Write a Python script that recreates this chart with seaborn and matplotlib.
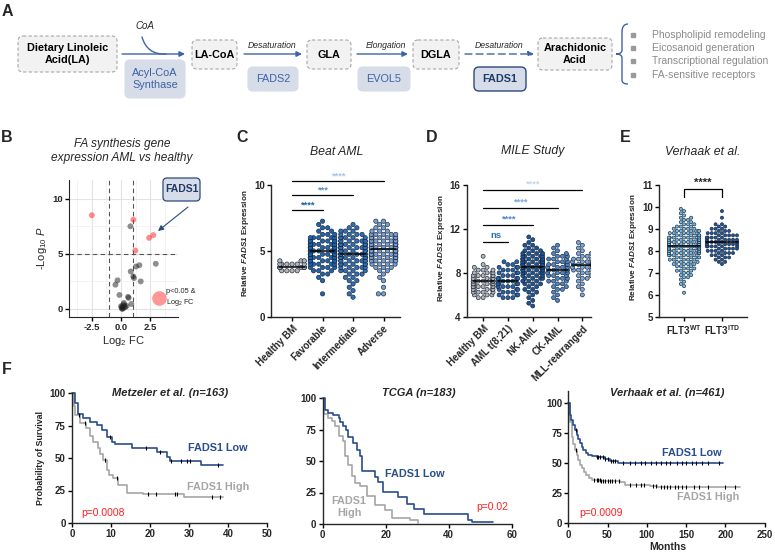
import numpy as np
import pandas as pd
import matplotlib
matplotlib.use('Agg')
import matplotlib.pyplot as plt
import seaborn as sns
from matplotlib.patches import FancyBboxPatch, PathPatch
from matplotlib.path import Path

# ---------------- data ----------------
# B volcano: log2 FC, -log10 P, significant flag
volc_fc = [-2.5, 1.05, 2.4, 2.76, 1.22,
           0.8, 2.97, 0.83, 1.28, 1.57, 1.05, 1.1, 1.68, -0.3, -0.48, -0.14, 0.6, 0.65,
           0.88, 0.48, 0.05, 0.1, 0.15, 0.2, 0.25, 0.3, 0.1, 0.35, 0.0, 0.18]
volc_p = [8.5, 8.1, 6.45, 6.7, 5.3,
          7.5, 4.1, 3.4, 3.85, 3.97, 2.95, 2.8, 2.5, 2.6, 2.2, 1.27, 1.1, 1.0,
          0.45, 0.27, 0.1, 0.2, 0.05, 0.4, 0.55, 0.3, 0.0, 0.15, 0.25, 0.12]
volc_sig = ['sig'] * 5 + ['ns'] * 25

# C Beat AML: value bins and counts per group
c_groups = ['Healthy BM', 'Favorable', 'Intermediate', 'Adverse']
c_bins = [1.5, 1.75, 2.0, 2.25, 2.5, 2.75, 3.0, 3.25, 3.5, 3.75, 4.0, 4.25,
          4.5, 4.75, 5.0, 5.25, 5.5, 5.75, 6.0, 6.25, 6.5, 6.75, 7.0, 7.25]
c_healthy = [0, 0, 0, 0, 0, 0, 0, 0, 4, 7, 6, 3, 0, 0, 0, 0, 0, 0, 0, 0, 0, 0, 0, 0]
c_fav = [0, 1, 0, 0, 0, 1, 1, 2, 3, 4, 5, 6, 7, 8, 8, 8, 7, 6, 5, 3, 2, 2, 1, 1]
c_inter = [1, 1, 1, 1, 1, 2, 2, 3, 4, 5, 6, 7, 8, 8, 8, 8, 8, 7, 5, 4, 3, 2, 1, 0]
c_adv = [0, 2, 0, 1, 0, 1, 1, 1, 2, 3, 4, 5, 7, 8, 9, 9, 8, 7, 6, 5, 3, 2, 2, 2]

# D MILE study
d_groups = ['Healthy BM', 'AML t(8;21)', 'NK-AML', 'CK-AML', 'MLL-rearranged']
d_bins = [5.0, 5.25, 5.5, 5.75, 6.0, 6.25, 6.5, 6.75, 7.0, 7.25, 7.5, 7.75, 8.0,
          8.25, 8.5, 8.75, 9.0, 9.25, 9.5, 9.75, 10.0, 10.25, 10.5, 10.75, 11.0, 11.25]
d_healthy = [0, 0, 0, 2, 3, 4, 5, 6, 7, 7, 6, 5, 4, 3, 2, 1, 0, 0, 1, 0, 0, 0, 0, 0, 0, 0]
d_t821 = [0, 0, 0, 3, 3, 3, 3, 4, 4, 4, 4, 3, 3, 3, 3, 2, 2, 0, 0, 0, 0, 0, 0, 0, 0, 0]
d_nk = [1, 1, 1, 1, 1, 2, 2, 2, 3, 3, 4, 4, 5, 6, 7, 7, 7, 6, 5, 4, 3, 2, 2, 1, 1, 1]
d_ck = [0, 0, 1, 1, 1, 1, 2, 2, 2, 3, 3, 3, 4, 4, 4, 4, 3, 3, 3, 2, 1, 1, 1, 0, 0, 0]
d_mll = [0, 0, 0, 0, 1, 0, 1, 1, 1, 1, 2, 2, 2, 3, 4, 4, 4, 3, 2, 2, 1, 1, 1, 1, 0, 0]

# E Verhaak FLT3
e_groups = ['FLT3 WT', 'FLT3 ITD']
e_bins = [6.1, 6.2, 6.3, 6.4, 6.5, 6.6, 6.7, 6.8, 6.9, 7.0, 7.1, 7.2, 7.3, 7.4, 7.5,
          7.6, 7.7, 7.8, 7.9, 8.0, 8.1, 8.2, 8.3, 8.4, 8.5, 8.6, 8.7, 8.8, 8.9, 9.0,
          9.1, 9.2, 9.3, 9.4, 9.5, 9.6, 9.7, 9.8, 9.9]
e_wt = [1, 0, 0, 1, 1, 1, 1, 2, 2, 2, 3, 3, 3, 4, 4, 5, 5, 6, 7, 7, 8, 8, 8, 8, 7,
        7, 6, 5, 5, 4, 3, 3, 2, 2, 2, 1, 1, 1, 1]
e_itd = [0, 0, 0, 0, 0, 0, 0, 0, 0, 0, 0, 0, 0, 1, 2, 2, 3, 3, 4, 4, 5, 6, 6, 6, 6,
         5, 5, 4, 3, 3, 2, 2, 0, 0, 1, 0, 0, 1, 0]

# F Kaplan-Meier curves (months, % surviving) and censor times
f1_low_t = [0, 0.8, 1.6, 2.9, 4.6, 6.3, 7.6, 8.9, 10.2, 11, 15.3, 21.7, 24.3, 25.1, 33, 38.8]
f1_low_s = [100, 92, 84, 81, 78, 75.6, 71.8, 66, 62.6, 60.5, 57.4, 54.8, 51, 48, 44.6, 44.6]
f1_high_t = [0, 0.5, 0.8, 2, 3.7, 4.6, 5.5, 6.7, 7.3, 8, 8.9, 9.5, 10.6, 11.9, 14, 18.3, 28.6, 38.8]
f1_high_s = [100, 90, 83, 76.9, 73, 66.7, 62, 57.4, 53, 48.5, 40.8, 37, 34.4, 29.2, 23.3, 22.3, 20.3, 20.3]
f1_low_c = [9.8, 19, 22.6, 25.5, 28, 29.5, 30.3, 37.5]
f1_high_c = [1.9, 3.4, 8.5, 11.5, 19.4, 21.5, 26.5, 27, 35.9, 37.9]

f2_low_t = [0, 0.7, 1.8, 3.3, 5.3, 5.6, 6.3, 7.4, 8.1, 9.7, 10.8, 11.8, 12.4, 16.6, 17.7,
            19.3, 24, 26.7, 29, 32, 46.2, 47.3, 54.2]
f2_low_s = [100, 90.5, 88, 86.5, 84, 81, 77.8, 74.6, 68.8, 64.6, 58.7, 54, 42.3, 37, 33.6,
            25.7, 21.7, 15.9, 12, 8, 3.2, 1.9, 1.9]
f2_high_t = [0, 0.4, 1.8, 2.8, 3.9, 5.3, 6.6, 7.1, 8.1, 9.2, 10.3, 11.8, 14, 16.6, 19.8, 21.9, 27.7, 30.4]
f2_high_s = [100, 87, 84, 81.5, 77.6, 69.6, 65.6, 53.7, 47, 37.8, 32.5, 29.9, 22.5, 15.3, 10.8, 4.8, 3.4, 0.5]

f3_low_t = [0, 2.1, 4, 6.4, 8.5, 10.6, 12.7, 14.9, 17, 19.1, 22, 25.4, 30, 36, 46.7, 53, 63.7, 197.5]
f3_low_s = [100, 90.3, 86, 81.9, 77.7, 73.6, 70, 66.7, 63.8, 61.1, 59, 57, 56, 55, 53.3, 52.2, 50, 50]
f3_high_t = [0, 2.1, 4.2, 6.3, 8.5, 10.6, 12.7, 14.8, 17, 19.7, 22.5, 26, 29.7, 40.3, 65.8, 72.2, 104, 112.5, 218.7]
f3_high_s = [100, 84.7, 72.2, 66, 61, 57, 52.8, 49, 45.8, 43, 40.3, 38, 36.1, 35.3, 34.2, 32, 31.1, 30, 30]
f3_low_c = [10, 36, 38, 41, 44, 47, 50, 54, 57, 60, 70, 78, 85, 92, 98, 105, 112, 118, 125,
            130, 138, 145, 150, 157, 163, 170, 178, 192]
f3_high_c = [10, 33, 36, 38, 40, 42, 44, 47, 50, 53, 56, 60, 65, 78, 86, 92, 97, 108, 112,
             118, 122, 126, 130, 136, 140, 145, 150, 160, 167, 178, 200, 212]

NAVY = '#2a4d8c'
KMGRAY = '#a6a6a6'

# ---------------- style ----------------
sns.set_style('ticks')
plt.rcParams['font.family'] = ['Liberation Sans', 'DejaVu Sans']
plt.rcParams['mathtext.fontset'] = 'custom'
plt.rcParams['mathtext.rm'] = 'Liberation Sans'
plt.rcParams['mathtext.it'] = 'Liberation Sans:italic'
plt.rcParams['mathtext.bf'] = 'Liberation Sans:bold'
plt.rcParams['mathtext.bfit'] = 'Liberation Sans:italic:bold'

W, H = 775, 556
fig = plt.figure(figsize=(W / 100, H / 100), dpi=100)


def px_axes(l, t, r, b):
    ax = fig.add_axes([l / W, 1 - b / H, (r - l) / W, (b - t) / H])
    ax.patch.set_alpha(0)
    return ax


def prism(ax, fs=7):
    sns.despine(ax=ax)
    ax.spines['left'].set_linewidth(1.0)
    ax.spines['bottom'].set_linewidth(1.0)
    ax.tick_params(width=1, length=3, labelsize=fs, pad=1.5, color='black')
    for lab in ax.get_xticklabels() + ax.get_yticklabels():
        lab.set_fontweight('bold')


def expand(bins, counts, groups):
    rows = []
    for g, c in zip(groups, counts):
        for v in np.repeat(bins, c):
            rows.append((g, v))
    return pd.DataFrame(rows, columns=['group', 'value'])


def swarm(ax, df, groups, colors, size):
    sns.swarmplot(data=df, x='group', y='value', hue='group', order=groups, hue_order=groups,
                  palette=dict(zip(groups, colors)), size=size, edgecolor='#16243a',
                  linewidth=0.45, legend=False, ax=ax, warn_thresh=1)
    for i, g in enumerate(groups):
        med = np.median(df.loc[df.group == g, 'value'])
        ax.plot([i - 0.42, i + 0.42], [med, med], color='black', lw=1.1, zorder=5)
    ax.set_xlabel('')


def sigbar(ax, x0, x1, y, txt, color, dy):
    ax.plot([x0, x1], [y, y], color='black', lw=0.9, clip_on=False)
    ax.text((x0 + x1) / 2, y + dy, txt, ha='center', va='bottom', color=color,
            fontsize=6.8, fontweight='bold')


# ---------------- B volcano ----------------
axB = px_axes(69, 180, 178, 317)
dfB = pd.DataFrame({'fc': volc_fc, 'p': volc_p, 'sig': volc_sig})
axB.set_xticks([-2.5, 0, 2.5])
axB.set_xticks([-3.75, -1.25, 1.25, 3.75], minor=True)
axB.set_yticks([0, 5, 10])
axB.set_yticks([2.5, 7.5], minor=True)
axB.grid(True, which='major', color='#e3e3e3', lw=0.8)
axB.grid(True, which='minor', color='#efefef', lw=0.5)
axB.set_axisbelow(True)
sns.scatterplot(data=dfB, x='fc', y='p', hue='sig', palette={'ns': '#1e1e1e', 'sig': '#ff1a1a'},
                alpha=0.5, s=18, linewidth=0, legend=False, ax=axB, zorder=3)
for v in (-1, 1):
    axB.axvline(v, ls=(0, (4, 3)), color='#555555', lw=0.8)
axB.axhline(5, ls=(0, (4, 3)), color='#555555', lw=0.8)
axB.scatter([3.25], [1.0], s=110, color='#ff1a1a', alpha=0.45, lw=0)
axB.text(3.85, 1.0, 'p<0.05 &\nLog$_2$ FC', fontsize=5.3, va='center', ha='left', linespacing=1.2)
axB.set_xlim(-4.45, 4.87)
axB.set_ylim(-0.73, 11.7)
axB.set_xticklabels(['-2.5', '0.0', '2.5'])
axB.set_xlabel('Log$_2$ FC', fontsize=8, labelpad=1)
axB.set_ylabel('-Log$_{10}$ $P$', fontsize=8, labelpad=2)
prism(axB, fs=6.8)
axB.tick_params(which='minor', length=0)
axB.spines['left'].set_linewidth(0.8)
axB.spines['bottom'].set_linewidth(0.8)

# ---------------- C Beat AML ----------------
axC = px_axes(271, 169, 400, 317)
dfC = expand(c_bins, [c_healthy, c_fav, c_inter, c_adv], c_groups)
swarm(axC, dfC, c_groups, ['#b5b5b5', '#1e64ac', '#2e6fb5', '#789fd2'], 3.1)
axC.set_xlim(-0.69, 3.54)
axC.set_ylim(0, 11.2)
axC.spines['left'].set_bounds(0, 10)
axC.set_yticks([0, 5, 10])
axC.set_xticks(range(4))
axC.set_xticklabels(c_groups, rotation=45, ha='right', rotation_mode='anchor')
axC.set_ylabel(r'Relative $\mathbfit{FADS1}$ Expression', fontsize=5.9, fontweight='bold', labelpad=2)
sigbar(axC, 0, 1, 8.1, '****', '#1f5fa6', 0.05)
sigbar(axC, 0, 2, 9.2, '***', '#5a8fcc', 0.05)
sigbar(axC, 0, 3, 10.3, '****', '#a8c4e6', 0.05)
prism(axC, fs=7)

# ---------------- D MILE ----------------
axD = px_axes(467, 179, 591, 317)
dfD = expand(d_bins, [d_healthy, d_t821, d_nk, d_ck, d_mll], d_groups)
swarm(axD, dfD, d_groups, ['#b5b5b5', '#2463a8', '#1c5494', '#4f86c4', '#7fa8d6'], 2.9)
axD.set_xlim(-0.65, 4.35)
axD.set_ylim(4, 16.5)
axD.spines['left'].set_bounds(4, 16)
axD.set_yticks([4, 8, 12, 16])
axD.set_xticks(range(5))
axD.set_xticklabels(d_groups, rotation=45, ha='right', rotation_mode='anchor')
axD.set_ylabel(r'Relative $\mathbfit{FADS1}$ Expression', fontsize=5.9, fontweight='bold', labelpad=2)
sigbar(axD, 0, 1, 10.8, 'ns', '#2f6db3', 0.15)
sigbar(axD, 0, 2, 12.36, '****', '#4f86c6', 0.1)
sigbar(axD, 0, 3, 13.9, '****', '#7ea7d6', 0.1)
sigbar(axD, 0, 4, 15.5, '****', '#c5d6ec', 0.1)
prism(axD, fs=7)

# ---------------- E Verhaak FLT3 ----------------
axE = px_axes(659, 178, 747, 317)
dfE = expand(e_bins, [e_wt, e_itd], e_groups)
swarm(axE, dfE, e_groups, ['#74bfe8', '#1f5597'], 2.25)
axE.set_xlim(-0.66, 1.66)
axE.set_ylim(5, 11.3)
axE.spines['left'].set_bounds(5, 11)
axE.set_yticks([5, 6, 7, 8, 9, 10, 11])
axE.set_xticks([0, 1])
axE.set_xticklabels([r'FLT3$^{\mathbf{WT}}$', r'FLT3$^{\mathbf{ITD}}$'])
axE.set_ylabel(r'Relative $\mathbfit{FADS1}$ Expression', fontsize=5.9, fontweight='bold', labelpad=2)
axE.plot([0, 0, 1, 1], [10.45, 10.8, 10.8, 10.45], color='black', lw=0.9)
axE.text(0.5, 10.85, '****', ha='center', va='bottom', fontsize=8, fontweight='bold')
prism(axE, fs=7)


# ---------------- F Kaplan-Meier ----------------
def km(ax, t, s, color, cens=None):
    sns.lineplot(x=t, y=s, drawstyle='steps-post', color=color, lw=1.2, ax=ax,
                 estimator=None, sort=False, clip_on=False)
    if cens:
        idx = np.searchsorted(t, cens, side='right') - 1
        ax.plot(cens, np.array(s)[idx], ls='none', marker='|', ms=3, mew=0.8, color='black',
                clip_on=False, zorder=4)


axF1 = px_axes(72, 393, 267, 523)
km(axF1, f1_high_t, f1_high_s, KMGRAY, f1_high_c)
km(axF1, f1_low_t, f1_low_s, NAVY, f1_low_c)
axF1.set_xlim(0, 50)
axF1.set_ylim(0, 100)
axF1.set_xticks([0, 10, 20, 30, 40, 50])
axF1.set_yticks([0, 25, 50, 75, 100])
axF1.set_ylabel('Probability of Survival', fontsize=6.4, fontweight='bold', labelpad=3)
prism(axF1, fs=7)

axF2 = px_axes(322.7, 398, 511.7, 524)
km(axF2, f2_high_t, f2_high_s, KMGRAY)
km(axF2, f2_low_t, f2_low_s, NAVY)
axF2.set_xlim(0, 60)
axF2.set_ylim(0, 100)
axF2.set_xticks([0, 20, 40, 60])
axF2.set_yticks([0, 25, 50, 75, 100])
prism(axF2, fs=7)

axF3 = px_axes(568.3, 391.3, 764.6, 523.3)
km(axF3, f3_high_t, f3_high_s, KMGRAY, f3_high_c)
km(axF3, f3_low_t, f3_low_s, NAVY, f3_low_c)
axF3.set_xlim(0, 250)
axF3.set_ylim(0, 110)
axF3.set_xticks([0, 50, 100, 150, 200, 250])
axF3.set_yticks([0, 25, 50, 75, 100])
prism(axF3, fs=7)

# ---------------- overlay: panel A and free text ----------------
ov = fig.add_axes([0, 0, 1, 1], zorder=10)
ov.set_xlim(0, W)
ov.set_ylim(H, 0)
ov.axis('off')


def box(x0, y0, x1, y1, text, fc, ec, ls, tc, weight, fs, lw=0.8):
    ov.add_patch(FancyBboxPatch((x0, y0), x1 - x0, y1 - y0,
                                boxstyle='round,pad=0,rounding_size=5',
                                fc=fc, ec=ec, ls=ls, lw=lw))
    ov.text((x0 + x1) / 2, (y0 + y1) / 2, text, ha='center', va='center', color=tc,
            fontweight=weight, fontsize=fs, linespacing=1.25)


for txt, x0, y0, x1, y1 in [('Dietary Linoleic\nAcid(LA)', 18, 36, 117, 72),
                            ('LA-CoA', 192, 40, 237, 69), ('GLA', 307, 40, 351, 69),
                            ('DGLA', 413, 40, 459, 69), ('Arachidonic\nAcid', 538, 38, 612, 70)]:
    box(x0, y0, x1, y1, txt, '#f2f2f2', '#a8a8a8', (0, (3, 2)), 'black', 'bold', 7.8)
for txt, x0, y0, x1, y1 in [('Acyl-CoA\nSynthase', 125, 60, 185, 98),
                            ('FADS2', 248, 67, 298, 91), ('EVOL5', 358, 67, 410, 91)]:
    box(x0, y0, x1, y1, txt, '#d6dce8', '#d6dce8', '-', '#3d62a6', 'normal', 7.8)
box(474, 67, 526, 91, 'FADS1', '#d6dce8', '#2c4a7c', '-', '#1f3a66', 'bold', 7.8, lw=1.0)

ARROW = '#3e64a8'
for (xa, xb, ls) in [(122, 185, '-'), (244, 302, '-'), (357, 408, '-'), (465, 534, (0, (5, 3)))]:
    ov.annotate('', xy=(xb, 54), xytext=(xa, 54),
                arrowprops=dict(arrowstyle='-|>', color=ARROW, lw=1.0, ls=ls,
                                mutation_scale=8, shrinkA=0, shrinkB=0))
ov.annotate('', xy=(166, 54), xytext=(142, 37),
            arrowprops=dict(arrowstyle='-', color=ARROW, lw=1.0,
                            connectionstyle='arc3,rad=0.4', shrinkA=0, shrinkB=0))
ov.text(145, 26, 'CoA', style='italic', fontsize=7, ha='center', va='center')
ov.text(272, 45, 'Desaturation', style='italic', fontsize=6.2, ha='center', va='center')
ov.text(386, 45, 'Elongation', style='italic', fontsize=6.2, ha='center', va='center')
ov.text(499, 45, 'Desaturation', style='italic', fontsize=6.2, ha='center', va='center')

brace = Path([(628, 24), (622, 24), (622, 32), (622, 50), (622, 54), (616, 54),
              (622, 54), (622, 58), (622, 80), (622, 84), (628, 84)],
             [Path.MOVETO, Path.CURVE3, Path.CURVE3, Path.LINETO, Path.CURVE3, Path.CURVE3,
              Path.CURVE3, Path.CURVE3, Path.LINETO, Path.CURVE3, Path.CURVE3])
ov.add_patch(PathPatch(brace, fc='none', ec=ARROW, lw=1.0))
for txt, y in zip(['Phospholipid remodeling', 'Eicosanoid generation',
                   'Transcriptional regulation', 'FA-sensitive receptors'], [35, 48, 61, 75]):
    ov.plot(633, y, marker='s', ms=2.2, color='#9a9a9a')
    ov.text(652, y, txt, fontsize=7.5, color='#8a8a8a', va='center', ha='left')

for lab, x, y in [('A', 7, 12), ('B', 7, 138), ('C', 242, 138), ('D', 432, 138),
                  ('E', 625, 138), ('F', 7, 370)]:
    ov.text(x, y, lab, fontsize=11.5, fontweight='bold', ha='center', va='center')

ov.text(122, 151, 'FA synthesis gene\nexpression AML vs healthy', style='italic', fontsize=8.6,
        ha='center', va='center', linespacing=1.15)
ov.text(337, 152, 'Beat AML', style='italic', fontsize=8.8, ha='center', va='center')
ov.text(533, 151, 'MILE Study', style='italic', fontsize=8.8, ha='center', va='center')
ov.text(703, 152, 'Verhaak et al.', style='italic', fontsize=8.8, ha='center', va='center')

ov.add_patch(FancyBboxPatch((163, 178), 37, 23, boxstyle='round,pad=0,rounding_size=4',
                            fc='#d6dce8', ec='#2c4a7c', lw=0.9))
ov.text(181.5, 189.5, 'FADS1', fontsize=7.5, fontweight='bold', color='#1f3a66',
        ha='center', va='center')
ov.annotate('', xy=(158, 231), xytext=(188, 207),
            arrowprops=dict(arrowstyle='-|>', color='#2c4a7c', lw=0.8, mutation_scale=8,
                            shrinkA=0, shrinkB=0))

ov.text(170, 393, 'Metzeler et al. (n=163)', fontsize=8, fontweight='bold', style='italic',
        ha='center', va='center')
ov.text(419, 393, 'TCGA (n=183)', fontsize=8, fontweight='bold', style='italic',
        ha='center', va='center')
ov.text(667, 393, 'Verhaak et al. (n=461)', fontsize=8, fontweight='bold', style='italic',
        ha='center', va='center')
ov.text(218, 448, 'FADS1 Low', fontsize=7.8, fontweight='bold', color=NAVY, ha='center', va='center')
ov.text(218, 487, 'FADS1 High', fontsize=7.8, fontweight='bold', color=KMGRAY, ha='center', va='center')
ov.text(103, 513, 'p=0.0008', fontsize=7.5, color='#ff2020', ha='center', va='center')
ov.text(415, 474, 'FADS1 Low', fontsize=7.8, fontweight='bold', color=NAVY, ha='center', va='center')
ov.text(349, 507, 'FADS1\nHigh', fontsize=7.8, fontweight='bold', color=KMGRAY, ha='center',
        va='center', linespacing=1.2)
ov.text(492, 507, 'p=0.02', fontsize=7.5, color='#ff2020', ha='center', va='center')
ov.text(692, 453, 'FADS1 Low', fontsize=7.8, fontweight='bold', color=NAVY, ha='center', va='center')
ov.text(708, 497, 'FADS1 High', fontsize=7.8, fontweight='bold', color=KMGRAY, ha='center', va='center')
ov.text(601, 513, 'p=0.0009', fontsize=7.5, color='#ff2020', ha='center', va='center')
ov.text(668, 552, 'Months', fontsize=7.5, fontweight='bold', ha='center', va='bottom')

fig.savefig('out.png', dpi=100)
